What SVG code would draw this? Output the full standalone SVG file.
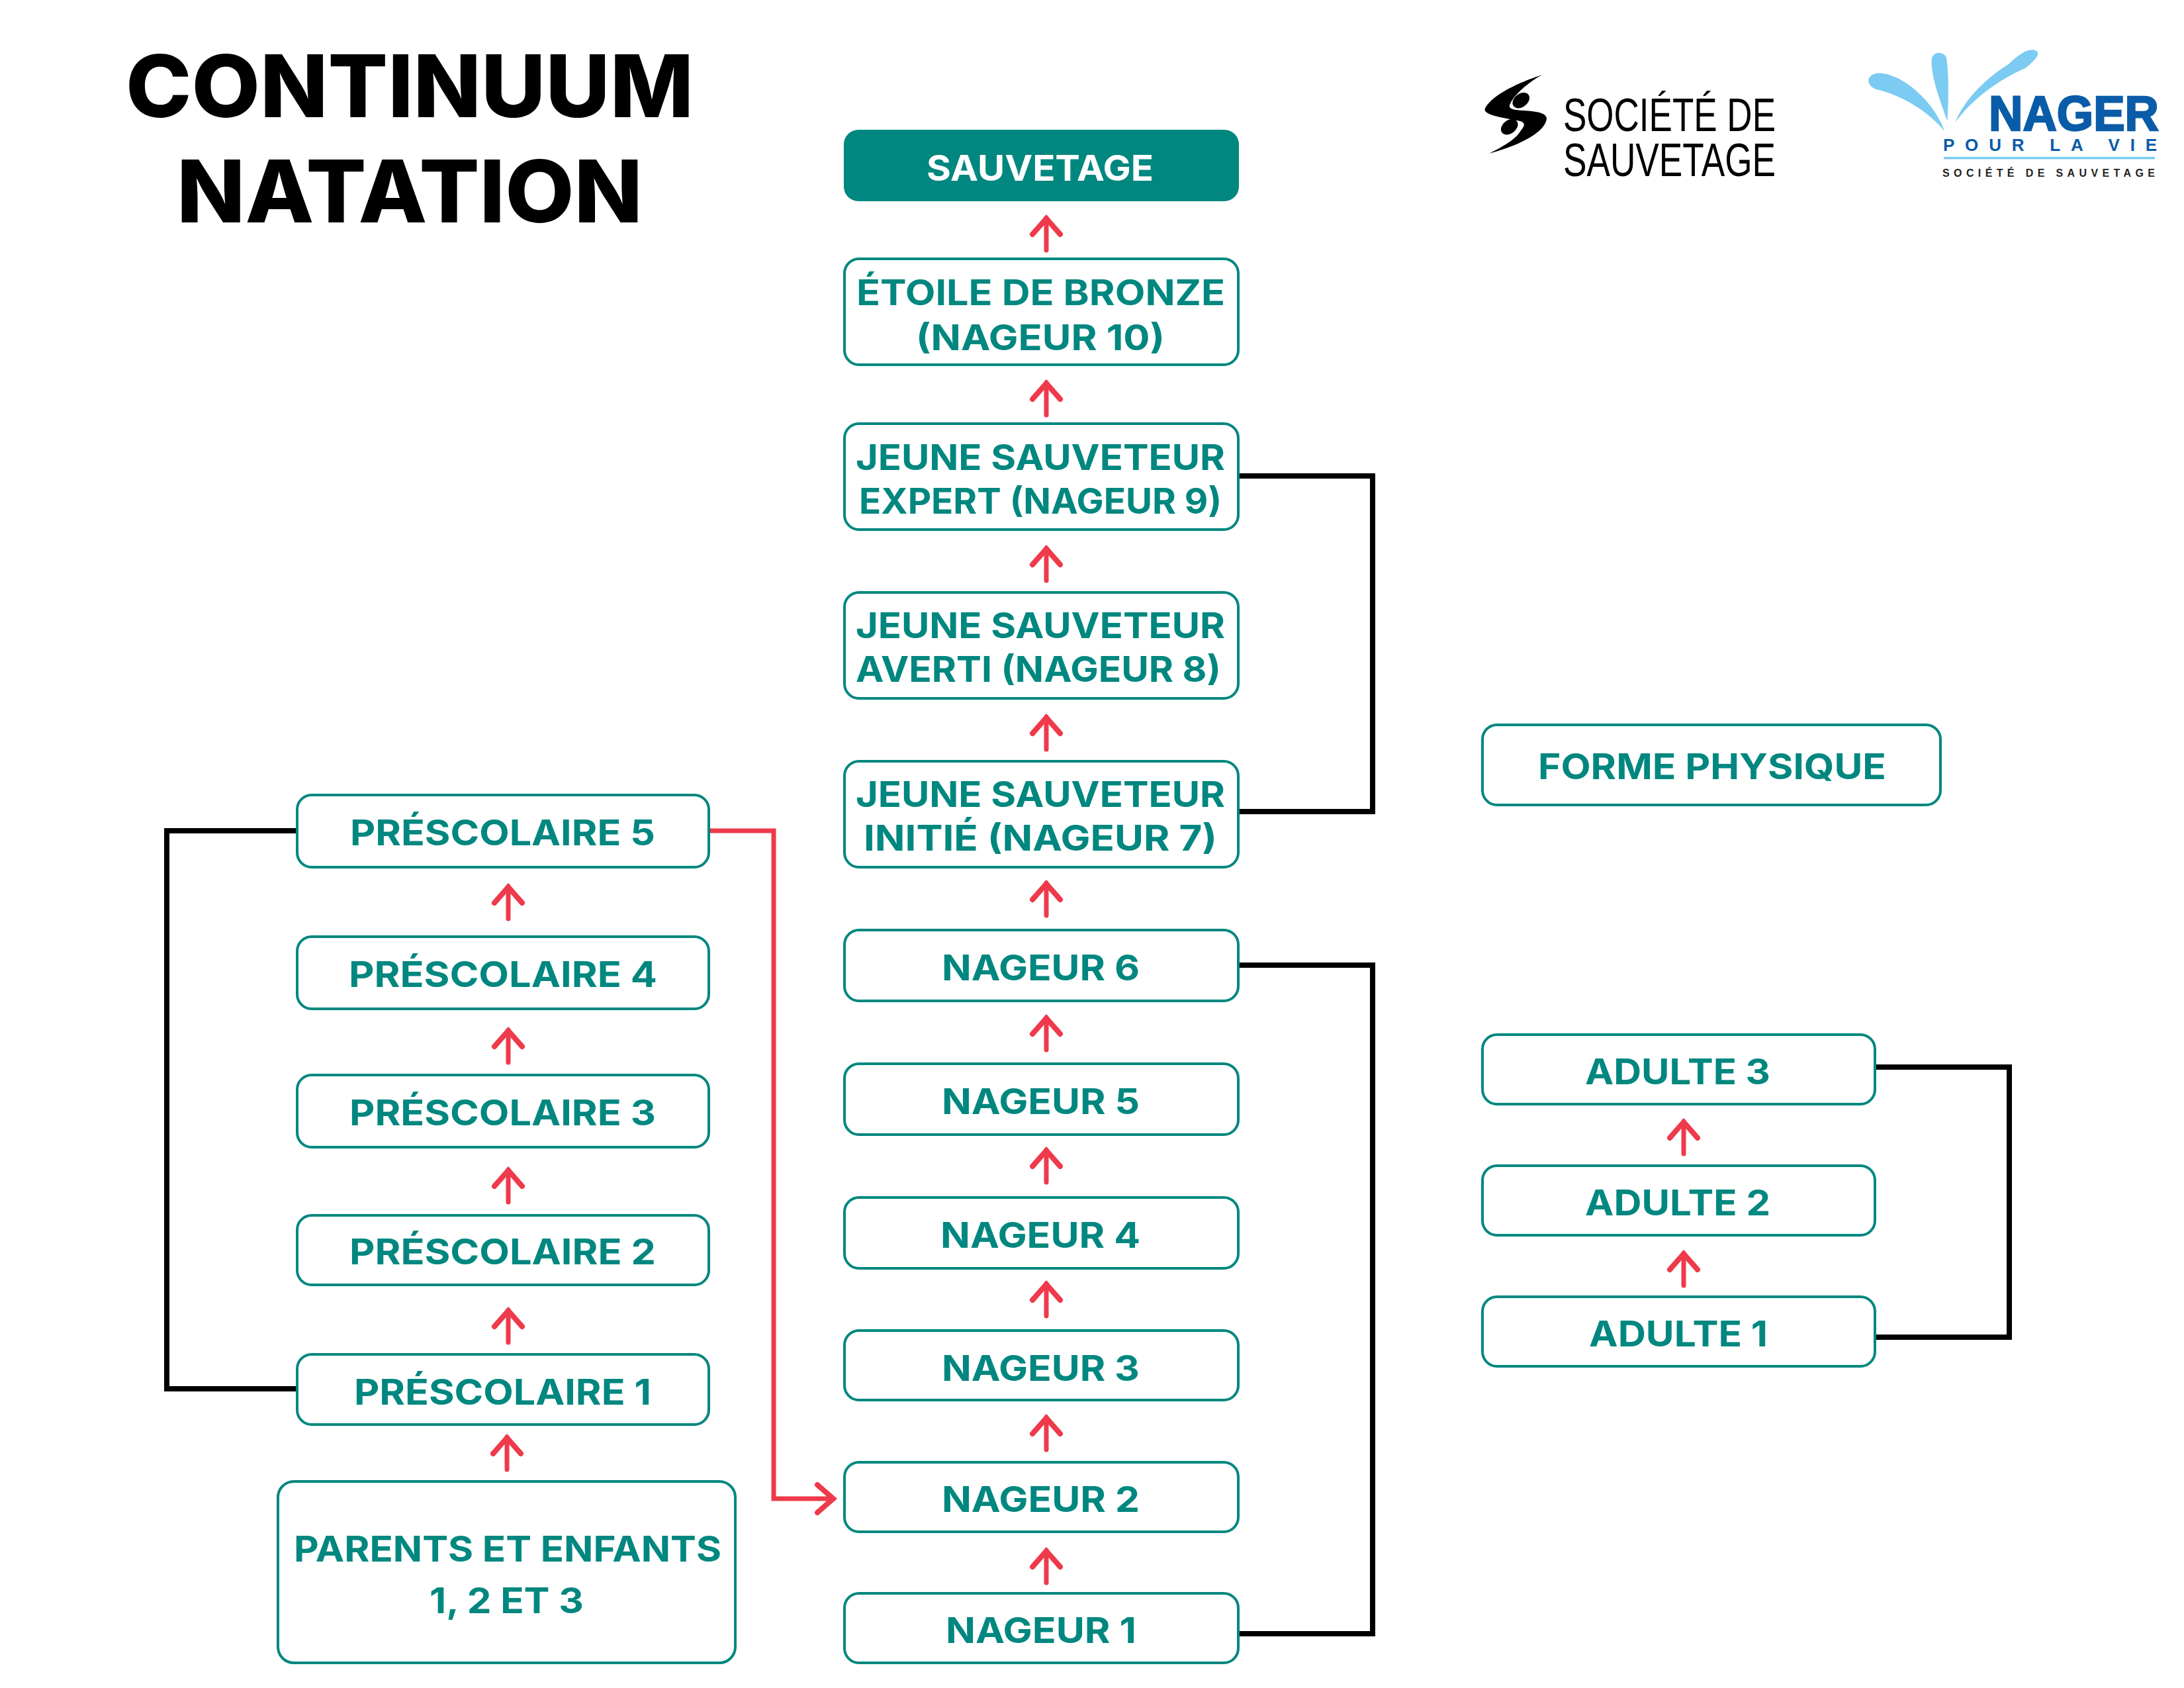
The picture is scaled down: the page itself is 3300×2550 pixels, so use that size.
<svg xmlns="http://www.w3.org/2000/svg" width="3300" height="2550" viewBox="0 0 3300 2550">
<style>
.bg{fill:#fff}
.box{fill:#fff;stroke:#00877F;stroke-width:4}
.t{font-family:Inter,"Liberation Sans",sans-serif;font-weight:700;font-size:53px;fill:#00877F}
.w{fill:#fff}
.title{font-family:Inter,"Liberation Sans",sans-serif;font-weight:800;font-size:130px;fill:#000}
.k{fill:none;stroke:#000;stroke-width:8;stroke-linejoin:miter}
.r{fill:none;stroke:#EE3A4A;stroke-width:7;stroke-linecap:round}
.rl{fill:none;stroke:#EE3A4A;stroke-width:7;stroke-linejoin:miter}
.sv{font-family:"Liberation Sans",sans-serif;font-size:70px;fill:#000}
.drop{fill:#7CCBF2}
.blue{font-family:"Liberation Sans",sans-serif;font-weight:700;fill:#0A5CA8}
.soc{font-family:"Liberation Sans",sans-serif;font-weight:700;font-size:16px;fill:#231F20}
</style>
<defs>
<marker id="head" markerUnits="userSpaceOnUse" markerWidth="40" markerHeight="56" viewBox="-34 -28 40 56" refX="0" refY="0" orient="auto" overflow="visible">
<path d="M-25,-21L-1,0L-25,21" fill="none" stroke="#EE3A4A" stroke-width="8" stroke-linecap="round" stroke-linejoin="miter"/>
</marker>
</defs>
<rect class="bg" width="3300" height="2550"/>
<g id="title">
<text class="title" x="190" y="177" textLength="858" lengthAdjust="spacingAndGlyphs">CONTINUUM</text>
<text class="title" x="267" y="336" textLength="704" lengthAdjust="spacingAndGlyphs">NATATION</text>
</g>
<g id="logo-societe">
<g transform="translate(2200,40) scale(0.7018,0.3333)">
<path d="M185,220C140,250 75,310 62,375C60,400 100,415 130,425C150,432 150,445 140,470C130,510 100,545 72,575C120,550 190,490 195,420C197,390 170,383 140,380C120,378 110,370 118,345C125,315 150,260 185,220Z"/>
<ellipse cx="140" cy="335" rx="17" ry="36" transform="rotate(12 140 335)"/>
<ellipse cx="115" cy="455" rx="17" ry="36" transform="rotate(12 115 455)"/>
</g>
<text class="sv" x="2362" y="198" textLength="321" lengthAdjust="spacingAndGlyphs">SOCIÉTÉ DE</text>
<text class="sv" x="2362" y="266" textLength="321" lengthAdjust="spacingAndGlyphs">SAUVETAGE</text>
</g>
<g id="logo-nager">
<g transform="translate(2200,40) scale(0.7018,0.3333)">
<path class="drop" d="M1052,475C1020,390 960,310 905,285C885,270 880,225 905,212C935,205 975,255 1000,310C1025,360 1045,430 1052,475Z"/>
<path class="drop" d="M1058,430C1045,350 1022,230 1024,150C1026,110 1052,110 1056,145C1062,230 1060,350 1058,430Z"/>
<path class="drop" d="M1075,435C1090,350 1130,250 1190,170C1210,130 1230,100 1245,107C1262,115 1250,150 1225,190C1170,240 1110,330 1075,435Z"/>
</g>
<text class="blue" x="3005" y="197" font-size="75" stroke="#0A5CA8" stroke-width="2.5" textLength="257" lengthAdjust="spacingAndGlyphs">NAGER</text>
<text class="blue" x="2936" y="228" font-size="26" textLength="323" lengthAdjust="spacing">POUR LA VIE</text>
<rect x="2937" y="237" width="319" height="3.5" fill="#7CCBF2"/>
<text class="soc" x="2935" y="267" textLength="321" lengthAdjust="spacing">SOCIÉTÉ DE SAUVETAGE</text>
</g>
<g id="connectors">
<path class="k" d="M1872 719H2074V1226H1872"/>
<path class="k" d="M1872 1458H2074V2468H1872"/>
<path class="k" d="M2833 1612H3036V2020H2833"/>
<path class="k" d="M448 1255H252V2098H448"/>
<path class="rl" d="M1071 1255H1169V2264H1260" marker-end="url(#head)"/>
<path class="r" marker-end="url(#head)" d="M1581 378V329"/>
<path class="r" marker-end="url(#head)" d="M1581 627V578"/>
<path class="r" marker-end="url(#head)" d="M1581 877V828"/>
<path class="r" marker-end="url(#head)" d="M1581 1132V1083"/>
<path class="r" marker-end="url(#head)" d="M1581 1383V1334"/>
<path class="r" marker-end="url(#head)" d="M1581 1586V1537"/>
<path class="r" marker-end="url(#head)" d="M1581 1786V1737"/>
<path class="r" marker-end="url(#head)" d="M1581 1988V1939"/>
<path class="r" marker-end="url(#head)" d="M1581 2190V2141"/>
<path class="r" marker-end="url(#head)" d="M1581 2391V2342"/>
<path class="r" marker-end="url(#head)" d="M768 1388V1339"/>
<path class="r" marker-end="url(#head)" d="M768 1605V1556"/>
<path class="r" marker-end="url(#head)" d="M768 1816V1767"/>
<path class="r" marker-end="url(#head)" d="M768 2028V1979"/>
<path class="r" marker-end="url(#head)" d="M766 2220V2171"/>
<path class="r" marker-end="url(#head)" d="M2544 1743V1694"/>
<path class="r" marker-end="url(#head)" d="M2544 1942V1893"/>
</g>
<g id="sauvetage"><rect x="1275" y="196" width="597" height="108" rx="22" fill="#00877F"/><text class="t w" x="1400" y="273" textLength="343" lengthAdjust="spacingAndGlyphs">SAUVETAGE</text></g>
<g id="etoile"><rect class="box" x="1276" y="391" width="595" height="160" rx="22"/><text class="t" x="1294" y="461" textLength="557" lengthAdjust="spacingAndGlyphs">ÉTOILE DE BRONZE</text><text class="t" x="1384" y="529" textLength="376" lengthAdjust="spacingAndGlyphs">(NAGEUR 10)</text></g>
<g id="nageur9"><rect class="box" x="1276" y="640" width="595" height="160" rx="22"/><text class="t" x="1293" y="710" textLength="558" lengthAdjust="spacingAndGlyphs">JEUNE SAUVETEUR</text><text class="t" x="1298" y="776" textLength="548" lengthAdjust="spacingAndGlyphs">EXPERT (NAGEUR 9)</text></g>
<g id="nageur8"><rect class="box" x="1276" y="895" width="595" height="160" rx="22"/><text class="t" x="1293" y="964" textLength="558" lengthAdjust="spacingAndGlyphs">JEUNE SAUVETEUR</text><text class="t" x="1293" y="1030" textLength="552" lengthAdjust="spacingAndGlyphs">AVERTI (NAGEUR 8)</text></g>
<g id="nageur7"><rect class="box" x="1276" y="1150" width="595" height="160" rx="22"/><text class="t" x="1293" y="1219" textLength="558" lengthAdjust="spacingAndGlyphs">JEUNE SAUVETEUR</text><text class="t" x="1305" y="1285" textLength="534" lengthAdjust="spacingAndGlyphs">INITIÉ (NAGEUR 7)</text></g>
<g id="nageur6"><rect class="box" x="1276" y="1405" width="595" height="107" rx="22"/><text class="t" x="1423" y="1481" textLength="299" lengthAdjust="spacingAndGlyphs">NAGEUR 6</text></g>
<g id="nageur5"><rect class="box" x="1276" y="1607" width="595" height="107" rx="22"/><text class="t" x="1423" y="1683" textLength="299" lengthAdjust="spacingAndGlyphs">NAGEUR 5</text></g>
<g id="nageur4"><rect class="box" x="1276" y="1809" width="595" height="107" rx="22"/><text class="t" x="1421" y="1885" textLength="302" lengthAdjust="spacingAndGlyphs">NAGEUR 4</text></g>
<g id="nageur3"><rect class="box" x="1276" y="2010" width="595" height="105" rx="22"/><text class="t" x="1423" y="2086" textLength="299" lengthAdjust="spacingAndGlyphs">NAGEUR 3</text></g>
<g id="nageur2"><rect class="box" x="1276" y="2209" width="595" height="105" rx="22"/><text class="t" x="1423" y="2284" textLength="299" lengthAdjust="spacingAndGlyphs">NAGEUR 2</text></g>
<g id="nageur1"><rect class="box" x="1276" y="2407" width="595" height="105" rx="22"/><text class="t" x="1429" y="2482" textLength="288" lengthAdjust="spacingAndGlyphs">NAGEUR 1</text></g>
<g id="prescolaire5"><rect class="box" x="449" y="1201" width="622" height="109" rx="22"/><text class="t" x="529" y="1277" textLength="461" lengthAdjust="spacingAndGlyphs">PRÉSCOLAIRE 5</text></g>
<g id="prescolaire4"><rect class="box" x="449" y="1415" width="622" height="109" rx="22"/><text class="t" x="527" y="1491" textLength="466" lengthAdjust="spacingAndGlyphs">PRÉSCOLAIRE 4</text></g>
<g id="prescolaire3"><rect class="box" x="449" y="1624" width="622" height="109" rx="22"/><text class="t" x="528" y="1700" textLength="463" lengthAdjust="spacingAndGlyphs">PRÉSCOLAIRE 3</text></g>
<g id="prescolaire2"><rect class="box" x="449" y="1836" width="622" height="105" rx="22"/><text class="t" x="528" y="1910" textLength="463" lengthAdjust="spacingAndGlyphs">PRÉSCOLAIRE 2</text></g>
<g id="prescolaire1"><rect class="box" x="449" y="2046" width="622" height="106" rx="22"/><text class="t" x="535" y="2122" textLength="449" lengthAdjust="spacingAndGlyphs">PRÉSCOLAIRE 1</text></g>
<g id="parents"><rect class="box" x="420" y="2238" width="691" height="274" rx="24"/><text class="t" x="444" y="2359" textLength="646" lengthAdjust="spacingAndGlyphs">PARENTS ET ENFANTS</text><text class="t" x="649" y="2437" textLength="233" lengthAdjust="spacingAndGlyphs">1, 2 ET 3</text></g>
<g id="forme"><rect class="box" x="2240" y="1095" width="692" height="121" rx="22"/><text class="t" x="2324" y="1177" textLength="526" lengthAdjust="spacingAndGlyphs">FORME PHYSIQUE</text></g>
<g id="adulte3"><rect class="box" x="2240" y="1563" width="593" height="105" rx="22"/><text class="t" x="2395" y="1638" textLength="280" lengthAdjust="spacingAndGlyphs">ADULTE 3</text></g>
<g id="adulte2"><rect class="box" x="2240" y="1761" width="593" height="105" rx="22"/><text class="t" x="2395" y="1836" textLength="280" lengthAdjust="spacingAndGlyphs">ADULTE 2</text></g>
<g id="adulte1"><rect class="box" x="2240" y="1959" width="593" height="105" rx="22"/><text class="t" x="2401" y="2034" textLength="270" lengthAdjust="spacingAndGlyphs">ADULTE 1</text></g>
</svg>
